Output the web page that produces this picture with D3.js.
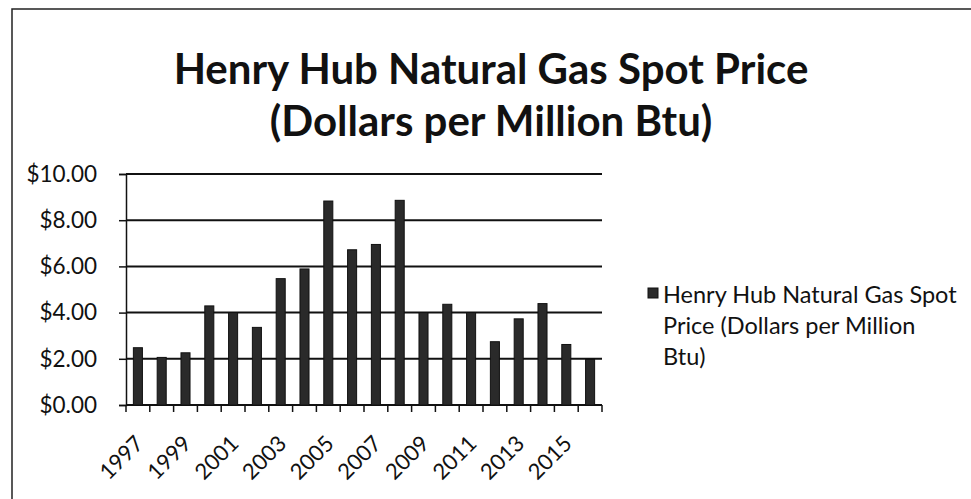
<!DOCTYPE html>
<html>
<head>
<meta charset="utf-8">
<script src="https://cdnjs.cloudflare.com/ajax/libs/d3/7.8.5/d3.min.js"></script>
<style>
  body { margin: 0; background: #fff; }
  svg { display: block; font-family: Lato, "Open Sans", sans-serif; }
</style>
</head>
<body>
<div id="chart"></div>
<script>
// ============================= Datos =========================//
var years = ["1997", "1998", "1999", "2000", "2001", "2002", "2003", "2004", "2005", "2006",
  "2007", "2008", "2009", "2010", "2011", "2012", "2013", "2014", "2015", "2016"];
var prices = [2.48, 2.06, 2.26, 4.29, 4.00, 3.36, 5.47, 5.89, 8.83, 6.72,
  6.95, 8.86, 4.00, 4.36, 4.00, 2.74, 3.73, 4.39, 2.62, 1.97];
var yTicks = [0, 2, 4, 6, 8, 10];
var titleLines = ["Henry Hub Natural Gas Spot Price", "(Dollars per Million Btu)"];
var legendLines = ["Henry Hub Natural Gas Spot", "Price (Dollars per Million", "Btu)"];

// ============================= Medidas =========================//
var width = 971, height = 499;
var margin = {top: 174, left: 126, bottom: 94, right: 369};

var svg = d3.select("#chart").append("svg")
  .attr("width", width)
  .attr("height", height);

svg.append("rect")
  .attr("width", width)
  .attr("height", height)
  .attr("fill", "#fff");

// borde del grafico (solo se ve arriba y a la izquierda)
svg.append("path")
  .attr("d", "M12," + height + "V9H" + width)
  .attr("fill", "none")
  .attr("stroke", "#222")
  .attr("stroke-width", 1.5);

var x = d3.scaleBand()
  .domain(years)
  .range([margin.left, width - margin.right])
  .paddingInner(0.62)
  .paddingOuter(0.31);

var y = d3.scaleLinear()
  .domain([0, 10])
  .range([height - margin.bottom, margin.top]);

// ============================= Titulo =========================//
svg.append("g")
  .selectAll("text")
  .data(titleLines)
  .enter().append("text")
    .attr("x", 491)
    .attr("y", function(d, i) { return 84 + i * 52; })
    .attr("text-anchor", "middle")
    .attr("font-size", 42)
    .attr("font-weight", "bold")
    .attr("fill", "#111")
    .text(function(d) { return d; });

// ============================= Grilla y ejes =========================//
svg.append("g")
  .selectAll("line")
  .data(yTicks.filter(function(d) { return d > 0; }))
  .enter().append("line")
    .attr("x1", margin.left)
    .attr("x2", width - margin.right)
    .attr("y1", function(d) { return y(d); })
    .attr("y2", function(d) { return y(d); })
    .attr("stroke", "#111")
    .attr("stroke-width", 2);

var yAxis = svg.append("g")
  .attr("transform", "translate(" + margin.left + ",0)")
  .call(d3.axisLeft(y).tickValues(yTicks).tickSize(7).tickPadding(22)
    .tickFormat(function(d) { return "$" + d3.format(".2f")(d); }));

yAxis.select(".domain").attr("stroke", "#111").attr("stroke-width", 1.5);
yAxis.selectAll(".tick line").attr("stroke", "#111").attr("stroke-width", 1.5);
yAxis.selectAll(".tick text")
  .attr("font-size", 22.5)
  .attr("font-family", "Lato, sans-serif")
  .attr("fill", "#111");

// eje x: marcas en los bordes de cada categoria
var step = x.step();
var xAxis = svg.append("g")
  .attr("transform", "translate(0," + y(0) + ")");

xAxis.append("line")
  .attr("x1", margin.left)
  .attr("x2", width - margin.right)
  .attr("stroke", "#111")
  .attr("stroke-width", 2);

xAxis.selectAll("line.tick")
  .data(d3.range(years.length + 1))
  .enter().append("line")
    .attr("class", "tick")
    .attr("x1", function(d) { return margin.left + d * step; })
    .attr("x2", function(d) { return margin.left + d * step; })
    .attr("y1", 0)
    .attr("y2", 7)
    .attr("stroke", "#111")
    .attr("stroke-width", 1.5);

xAxis.selectAll("text")
  .data(years.filter(function(d, i) { return i % 2 == 0; }))
  .enter().append("text")
    .attr("transform", function(d) {
      return "translate(" + (x(d) + x.bandwidth() / 2 + 7) + ",40) rotate(-45)";
    })
    .attr("text-anchor", "end")
    .attr("font-size", 22)
    .attr("fill", "#111")
    .text(function(d) { return d; });

// ============================= Barras =========================//
svg.append("g")
  .selectAll("rect")
  .data(prices)
  .enter().append("rect")
    .attr("x", function(d, i) { return x(years[i]); })
    .attr("y", function(d) { return y(d); })
    .attr("width", x.bandwidth())
    .attr("height", function(d) { return y(0) - y(d); })
    .attr("fill", "#2a2a2a")
    .attr("stroke", "#111")
    .attr("stroke-width", 1);

// ============================= Leyenda =========================//
var legend = svg.append("g");

legend.append("rect")
  .attr("x", 648)
  .attr("y", 288)
  .attr("width", 10)
  .attr("height", 10)
  .attr("fill", "#2a2a2a")
  .attr("stroke", "#111");

legend.selectAll("text")
  .data(legendLines)
  .enter().append("text")
    .attr("x", 663)
    .attr("y", function(d, i) { return 303 + i * 31; })
    .attr("font-size", 23.5)
    .attr("fill", "#111")
    .text(function(d) { return d; });
</script>
</body>
</html>
